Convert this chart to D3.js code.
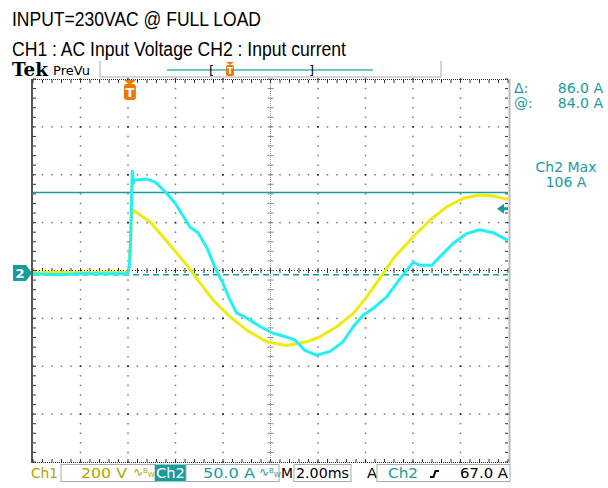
<!DOCTYPE html>
<meta charset="utf-8">
<script src="https://d3js.org/d3.v7.min.js"></script>
<style>
  body { margin: 0; background: #fff; }
  text { font-family: "DejaVu Sans", sans-serif; }
</style>
<div id="scope"></div>
<script>
// ---- data ----
// CH1 : AC input voltage (time in ms from trigger, volts)
const ch1Time  = [-4.08, -3, -2, -1, -0.1, -0.04, 0.03, 0.07, 0.14, 0.43, 0.85, 1.39, 1.97, 2.45, 2.95, 3.5, 4.21, 4.92, 5.76, 6.6, 7.44, 8.0, 8.71, 9.41, 9.97, 10.67, 11.16, 11.93, 12.64, 13.34, 14.04, 14.74, 15.3, 15.92];
const ch1Volts = [0, 1, -1, 0, 0, 18, 135, 244, 261, 240, 212, 149, 81, 24, -44, -115, -185, -241, -290, -305, -290, -269, -227, -171, -102, -4, 66, 149, 219, 274, 310, 323, 319, 305];
// CH2 : input current (time in ms from trigger, amps)
const ch2Time = [-4.08, -3, -2, -1, -0.1, -0.02, 0.03, 0.07, 0.1, 0.15, 0.21, 0.71, 1.06, 1.48, 1.9, 2.53, 2.87, 3.23, 3.58, 3.92, 4.21, 4.5, 4.92, 5.48, 6.03, 6.6, 6.95, 7.37, 7.87, 8.43, 8.97, 9.41, 9.83, 10.25, 10.81, 11.23, 11.66, 11.93, 12.22, 12.71, 13.06, 13.62, 14.18, 14.74, 15.3, 15.92];
const ch2Amps = [-1, -2, -1, -1, -1, 8, 34, 76, 106, 94, 97, 98, 95, 85, 73, 48, 42, 27, 6, -11, -28, -42, -47, -56, -63, -67, -70, -81, -86, -82, -72, -56, -44, -37, -25, -11, 3, 11, 8, 8, 17, 31, 41, 45, 42, 34];

// scope settings
const ch1PerDiv = 200, ch2PerDiv = 50, msPerDiv = 2;
const ch1Offset = -0.04, ch2Offset = -0.05;   // ground position in divisions
const triggerDiv = 2.04;
const cursorA = 84.0, cursorB = -2.0, ch2Max = 106, trigLevel = 67.0;

const titleLines = ["INPUT=230VAC @ FULL LOAD", "CH1 : AC Input Voltage CH2 : Input current"];

const teal = "#1a9c9c", cyan = "#22f0f4", yellow = "#ecec10", olive = "#aea600", orange = "#f07800";

const svg = d3.select("#scope").append("svg")
  .attr("width", 608).attr("height", 488);
svg.append("rect").attr("width", 608).attr("height", 488).attr("fill", "#fff");

// screen geometry
const divX = d3.scaleLinear().domain([0, 10]).range([33, 508]);
const divY = d3.scaleLinear().domain([-4, 4]).range([462, 79]);
const x = d3.scaleLinear()
  .domain([-triggerDiv * msPerDiv, (10 - triggerDiv) * msPerDiv])
  .range([33, 508]);
const yV = d3.scaleLinear()
  .domain([(-4 - ch1Offset) * ch1PerDiv, (4 - ch1Offset) * ch1PerDiv]).range([462, 79]);
const yA = d3.scaleLinear()
  .domain([(-4 - ch2Offset) * ch2PerDiv, (4 - ch2Offset) * ch2PerDiv]).range([462, 79]);

// title text
svg.append("text").attr("x", 12).attr("y", 26).attr("font-size", 21)
  .style("font-family", "Liberation Sans").attr("textLength", 249).attr("lengthAdjust", "spacingAndGlyphs")
  .text(titleLines[0]);
svg.append("text").attr("x", 12).attr("y", 56).attr("font-size", 20)
  .style("font-family", "Liberation Sans").attr("textLength", 334).attr("lengthAdjust", "spacingAndGlyphs")
  .text(titleLines[1]);

// Tek header
svg.append("text").attr("x", 12).attr("y", 76).attr("font-size", 18).attr("font-weight", "bold")
  .style("font-family", "DejaVu Serif").attr("textLength", 36).attr("lengthAdjust", "spacingAndGlyphs").text("Tek");
svg.append("text").attr("x", 53).attr("y", 75).attr("font-size", 13)
  .attr("textLength", 37).attr("lengthAdjust", "spacingAndGlyphs").text("PreVu");
svg.append("path").attr("d", "M100,61V77H441V61").attr("fill", "none").attr("stroke", "#aaa");
svg.append("line").attr("x1", 167).attr("x2", 373).attr("y1", 70).attr("y2", 70)
  .attr("stroke", "#6cc8c8").attr("stroke-width", 2);
svg.append("text").attr("x", 209).attr("y", 75).attr("font-size", 13).text("[");
svg.append("text").attr("x", 309).attr("y", 75).attr("font-size", 13).text("]");
const tSmall = svg.append("g").attr("transform", "translate(230,62)");
tSmall.append("path").attr("d", "M-4,0H4L0,3Z").attr("fill", orange);
tSmall.append("rect").attr("x", -4).attr("y", 3).attr("width", 8).attr("height", 11).attr("rx", 2).attr("fill", orange);
tSmall.append("text").attr("y", 12).attr("text-anchor", "middle").attr("font-size", 9)
  .attr("font-weight", "bold").attr("fill", "#fff").text("T");

// graticule
const grid = svg.append("g");
const dot = (cx, cy, c) => grid.append("rect").attr("x", cx - 0.75).attr("y", cy - 0.75)
  .attr("width", 1.5).attr("height", 1.5).attr("fill", c);
d3.range(1, 10).filter(i => i !== 5).forEach(i => {
  d3.range(0, 41).forEach(k => dot(divX(i), divY(-4 + k * 0.2), k % 5 === 0 ? "#222" : "#777"));
});
d3.range(-3, 4).filter(j => j !== 0).forEach(j => {
  d3.range(0, 51).forEach(k => dot(divX(k * 0.2), divY(j), k % 5 === 0 ? "#222" : "#777"));
});
// centre lines with ticks
grid.append("line").attr("x1", divX(5)).attr("x2", divX(5)).attr("y1", divY(4)).attr("y2", divY(-4))
  .attr("stroke", "#999").attr("stroke-dasharray", "1,1");
grid.append("line").attr("x1", divX(0)).attr("x2", divX(10)).attr("y1", divY(0)).attr("y2", divY(0))
  .attr("stroke", "#222").attr("stroke-dasharray", "1,2");
d3.range(0, 41).forEach(k => grid.append("line")
  .attr("x1", divX(5) - 3).attr("x2", divX(5) + 3).attr("y1", divY(-4 + k * 0.2)).attr("y2", divY(-4 + k * 0.2))
  .attr("stroke", "#888"));
d3.range(0, 51).forEach(k => grid.append("line")
  .attr("x1", divX(k * 0.2)).attr("x2", divX(k * 0.2)).attr("y1", divY(0) - 2.5).attr("y2", divY(0) + 2.5)
  .attr("stroke", "#333"));
// frame edges with minor ticks
grid.append("line").attr("x1", 33).attr("x2", 508).attr("y1", 79.5).attr("y2", 79.5)
  .attr("stroke", "#222").attr("stroke-dasharray", "1,1");
grid.append("line").attr("x1", 33).attr("x2", 508).attr("y1", 462.5).attr("y2", 462.5)
  .attr("stroke", "#222").attr("stroke-dasharray", "1,1");
grid.append("line").attr("x1", 32).attr("x2", 32).attr("y1", 79).attr("y2", 463)
  .attr("stroke", "#555").attr("stroke-width", 2);
grid.append("line").attr("x1", 509.5).attr("x2", 509.5).attr("y1", 79).attr("y2", 463)
  .attr("stroke", "#bbb").attr("stroke-width", 2);
d3.range(0, 51).forEach(k => {
  grid.append("line").attr("x1", divX(k * 0.2)).attr("x2", divX(k * 0.2)).attr("y1", 80).attr("y2", 83).attr("stroke", "#333");
  grid.append("line").attr("x1", divX(k * 0.2)).attr("x2", divX(k * 0.2)).attr("y1", 459).attr("y2", 462).attr("stroke", "#333");
});
d3.range(0, 41).forEach(k => {
  grid.append("line").attr("x1", 33).attr("x2", 36).attr("y1", divY(-4 + k * 0.2)).attr("y2", divY(-4 + k * 0.2)).attr("stroke", "#333");
  grid.append("line").attr("x1", 505).attr("x2", 508).attr("y1", divY(-4 + k * 0.2)).attr("y2", divY(-4 + k * 0.2)).attr("stroke", "#333");
});

// cursors
svg.append("line").attr("x1", 33).attr("x2", 508).attr("y1", yA(cursorA)).attr("y2", yA(cursorA))
  .attr("stroke", teal).attr("stroke-width", 1.5);
svg.append("line").attr("x1", 33).attr("x2", 508).attr("y1", yA(cursorB)).attr("y2", yA(cursorB))
  .attr("stroke", teal).attr("stroke-width", 1.5).attr("stroke-dasharray", "6,4");

// traces
const ch1Line = d3.line().x((d, i) => x(ch1Time[i])).y(d => yV(d));
const ch2Line = d3.line().x((d, i) => x(ch2Time[i])).y(d => yA(d));
svg.append("path").datum(ch1Volts).attr("d", ch1Line)
  .attr("fill", "none").attr("stroke", yellow).attr("stroke-width", 3).attr("stroke-linejoin", "round");
svg.append("path").datum(ch2Amps).attr("d", ch2Line)
  .attr("fill", "none").attr("stroke", cyan).attr("stroke-width", 3).attr("stroke-linejoin", "round");

// trigger position marker
const tMark = svg.append("g").attr("transform", `translate(${x(0)},80)`);
tMark.append("path").attr("d", "M-6,0H6L0,5Z").attr("fill", orange);
tMark.append("rect").attr("x", -6).attr("y", 4).attr("width", 12).attr("height", 16).attr("rx", 3).attr("fill", orange);
tMark.append("text").attr("y", 17).attr("text-anchor", "middle").attr("font-size", 13)
  .attr("font-weight", "bold").attr("fill", "#fff").text("T");

// ch2 ground marker
const gMark = svg.append("g").attr("transform", `translate(0,${yA(0)})`);
gMark.append("path").attr("d", "M13,-8H26L32,0L26,8H13Z").attr("fill", teal);
gMark.append("text").attr("x", 20).attr("y", 5).attr("text-anchor", "middle").attr("font-size", 13)
  .attr("font-weight", "bold").attr("fill", "#fff").text("2");

// ch2 trigger level arrow
const tl = svg.append("g").attr("transform", `translate(0,${yA(trigLevel)})`);
tl.append("path").attr("d", "M497,0L504,-5V5Z").attr("fill", teal);
tl.append("rect").attr("x", 503).attr("y", -1.5).attr("width", 5).attr("height", 3).attr("fill", teal);

// readouts
const ro = svg.append("g").attr("fill", teal).attr("font-size", 14);
ro.append("text").attr("x", 514).attr("y", 93).text("\u0394:");
ro.append("text").attr("x", 603).attr("y", 93).attr("text-anchor", "end").text((cursorA - cursorB).toFixed(1) + " A");
ro.append("text").attr("x", 514).attr("y", 108).text("@:");
ro.append("text").attr("x", 603).attr("y", 108).attr("text-anchor", "end").text(cursorA.toFixed(1) + " A");
ro.append("text").attr("x", 566).attr("y", 172).attr("text-anchor", "middle").text("Ch2 Max");
ro.append("text").attr("x", 566).attr("y", 187).attr("text-anchor", "middle").text(ch2Max + " A");

// status bar
const sb = svg.append("g").attr("font-size", 14);
const box = (bx, bw) => sb.append("rect").attr("x", bx).attr("y", 464.5).attr("width", bw).attr("height", 17)
  .attr("fill", "none").attr("stroke", "#aaa");
const label = (tx, str, c, len) => {
  const t = sb.append("text").attr("x", tx).attr("y", 478).attr("fill", c).text(str);
  if (len) t.attr("textLength", len).attr("lengthAdjust", "spacingAndGlyphs");
  return t;
};
const bw = (bx, c) => {
  const t = sb.append("text").attr("x", bx).attr("y", 476).attr("font-size", 12).attr("fill", c);
  t.append("tspan").text("\u223F");
  t.append("tspan").attr("font-size", 7).attr("dy", -3).text("B");
  t.append("tspan").attr("font-size", 7).attr("dy", 4).text("W");
};
label(31, "Ch1", olive, 27);
box(61, 94);
label(81, ch1PerDiv + " V", olive, 46);
bw(133, olive);
sb.append("rect").attr("x", 155).attr("y", 464.5).attr("width", 31).attr("height", 17).attr("fill", teal);
label(156, "Ch2", "#fff", 29);
box(186, 93);
label(203, ch2PerDiv.toFixed(1) + " A", teal, 52);
bw(259, teal);
label(281, "M", "#000", 12);
box(294, 57);
label(296, msPerDiv.toFixed(2) + "ms", "#000", 53);
label(367, "A", "#000", 10);
box(377, 133);
label(388, "Ch2", teal, 30);
sb.append("path").attr("d", "M430,477H433.5L435.5,471H439").attr("fill", "none").attr("stroke", "#000").attr("stroke-width", 2);
label(460, trigLevel.toFixed(1) + " A", "#000", 48);
</script>
